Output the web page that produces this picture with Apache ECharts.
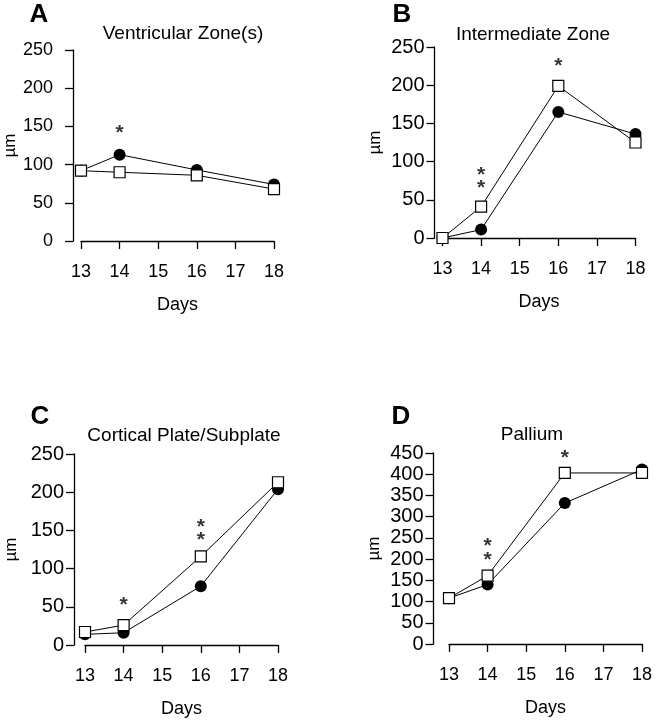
<!DOCTYPE html>
<html>
<head>
<meta charset="utf-8">
<script src="https://cdn.jsdelivr.net/npm/echarts@6/dist/echarts.min.js"></script>
<style>
  html, body { margin: 0; padding: 0; background: #fff; }
  #chart { width: 656px; height: 720px; }
</style>
</head>
<body>
<div id="chart"></div>
<script>
// embryonic days on x
const days = [13, 14, 16, 18];

// filled circles / open squares, thickness in um
const vzFilled = [92, 113, 93, 74];
const vzOpen = [92, 90, 86, 68];
const izFilled = [0, 11, 165, 136];
const izOpen = [0, 41, 199, 125];
const cpFilled = [14, 16, 77, 204];
const cpOpen = [17, 26, 116, 213];
const palFilled = [108, 140, 332, 411];
const palOpen = [108, 161, 403, 403];

// significance marks [day, value]
const vzStars = [[14, 146]];
const izStars = [[14, 87], [14, 70], [16, 230]];
const cpStars = [[14, 57], [16, 160], [16, 142]];
const palStars = [[14, 240], [14, 208], [16, 448]];

const yMaxes = [250, 250, 250, 450];
const titles = ['Ventricular Zone(s)', 'Intermediate Zone', 'Cortical Plate/Subplate', 'Pallium'];
const letters = ['A', 'B', 'C', 'D'];

const panels = [
  { filled: vzFilled, open: vzOpen, stars: vzStars },
  { filled: izFilled, open: izOpen, stars: izStars },
  { filled: cpFilled, open: cpOpen, stars: cpStars },
  { filled: palFilled, open: palOpen, stars: palStars }
];

// where each panel sits on the page
const layout = [
  { left: 81, top: 50, width: 193, height: 191, offset: 8, yMargin: 20, ySize: 18, letter: [39, 15], title: [183, 34], nameGap: 54 },
  { left: 442.5, top: 47, width: 193, height: 191, offset: 8, yMargin: 10, ySize: 20, letter: [402, 15], title: [533, 35], nameGap: 51 },
  { left: 85, top: 454, width: 193, height: 191, offset: 11, yMargin: 10, ySize: 20, letter: [40, 417], title: [184, 436], nameGap: 54 },
  { left: 449, top: 453, width: 193, height: 191, offset: 15.5, yMargin: 10, ySize: 20, letter: [401, 417], title: [532, 435], nameGap: 51 }
];

const font = "'Liberation Sans', Arial, sans-serif";
const axisLine = { show: true, lineStyle: { color: '#000', width: 1.3 } };
const axisTick = { show: true, inside: false, length: 8, lineStyle: { color: '#000', width: 1.3 } };

const myChart = echarts.init(document.getElementById('chart'), null, { renderer: 'canvas' });

const grid = [], xAxis = [], yAxis = [], series = [], graphic = [];

panels.forEach((p, i) => {
  const L = layout[i];
  grid.push({ left: L.left, top: L.top, width: L.width, height: L.height, containLabel: false });

  xAxis.push({
    type: 'value', gridIndex: i, min: 13, max: 18, interval: 1,
    axisLine: axisLine, axisTick: axisTick, splitLine: { show: false },
    axisLabel: { color: '#000', fontFamily: font, fontSize: 18, margin: 22 },
    name: 'Days', nameLocation: 'middle', nameGap: 55,
    nameTextStyle: { color: '#000', fontFamily: font, fontSize: 18 }
  });

  yAxis.push({
    type: 'value', gridIndex: i, min: 0, max: yMaxes[i], interval: 50,
    offset: L.offset,
    axisLine: axisLine, axisTick: axisTick, splitLine: { show: false },
    axisLabel: { color: '#000', fontFamily: font, fontSize: L.ySize, margin: L.yMargin },
    name: 'µm', nameLocation: 'middle', nameGap: L.nameGap,
    nameTextStyle: { color: '#000', fontFamily: font, fontSize: 17 }
  });

  series.push({
    type: 'line', xAxisIndex: i, yAxisIndex: i,
    data: days.map((d, k) => [d, p.filled[k]]),
    symbol: 'circle', symbolSize: 12,
    itemStyle: { color: '#000' },
    lineStyle: { color: '#000', width: 1 },
    animation: false, z: 2
  });
  series.push({
    type: 'line', xAxisIndex: i, yAxisIndex: i,
    data: days.map((d, k) => [d, p.open[k]]),
    symbol: 'rect', symbolSize: 11,
    itemStyle: { color: '#fff', borderColor: '#000', borderWidth: 1.2 },
    lineStyle: { color: '#000', width: 1 },
    animation: false, z: 3
  });
  series.push({
    type: 'scatter', xAxisIndex: i, yAxisIndex: i,
    data: p.stars, symbolSize: 0,
    label: {
      show: true, position: 'inside', formatter: '*', offset: [0, 4],
      color: '#000', fontFamily: font, fontSize: 21, fontWeight: 'bold'
    },
    silent: true, animation: false, z: 4
  });

  graphic.push({
    type: 'text', x: L.letter[0], y: L.letter[1],
    style: { text: letters[i], fill: '#000', font: 'bold 26px ' + font, textAlign: 'center', textVerticalAlign: 'middle' }
  });
  graphic.push({
    type: 'text', x: L.title[0], y: L.title[1],
    style: { text: titles[i], fill: '#000', font: '19px ' + font, textAlign: 'center', textVerticalAlign: 'middle' }
  });
});

const option = {
  backgroundColor: '#fff',
  animation: false,
  grid: grid,
  xAxis: xAxis,
  yAxis: yAxis,
  series: series,
  graphic: graphic
};

myChart.setOption(option);
</script>
</body>
</html>
